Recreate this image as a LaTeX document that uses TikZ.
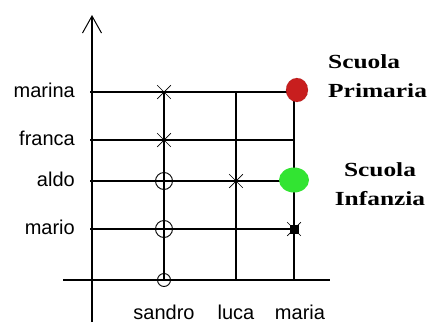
\documentclass[tikz,border=0pt]{standalone}
\usepackage{fontspec}
\setmainfont{Liberation Serif}
\setsansfont{Liberation Sans}
\newfontfamily\schoolfont{Liberation Serif}[FakeStretch=1.27]
\usepackage{xcolor}
\usetikzlibrary{arrows.meta, positioning}
\usetikzlibrary{shapes.geometric, shapes.misc}

\definecolor{primaria}{RGB}{200,30,30}
\definecolor{infanzia}{RGB}{50,228,50}

\begin{document}
\begin{tikzpicture}[x=1pt, y=-1pt,
                    gridline/.style={
                        line width=1.2pt
                    },
                    lbl/.style={
                        font=\sffamily\fontsize{20}{22}\selectfont,
                        inner sep=0pt,
                        text height=14pt,
                        text depth=4pt
                    },
                    school/.style={
                        font=\schoolfont\bfseries\fontsize{20}{29}\selectfont,
                        inner sep=0pt
                    },
                    xmark/.style={
                        draw,
                        cross out,
                        minimum size=13pt,
                        inner sep=0pt,
                        line width=0.7pt
                    },
                    omark/.style={
                        draw,
                        circle,
                        inner sep=0pt,
                        line width=0.9pt
                    },
                    dot/.style={
                        ellipse,
                        inner sep=0pt
                    }
                ]
                \useasboundingbox (0,0) rectangle (434,322);

                % Assi
                \coordinate (axistop) at (92,15);
                \coordinate (axisbot) at (92,322);
                \coordinate (baseleft) at (63,280);
                \coordinate (baseright) at (330,280);
                \draw[gridline, -{Straight Barb[length=17pt, width=19pt, line width=1pt]}] (axisbot) -- (axistop);
                \draw[gridline] (baseleft) -- (baseright);

                % Righe
                \foreach \name/\y in {marina/92, franca/140, aldo/181, mario/229} {
                    \coordinate (\name) at (90,\y);
                    \node[lbl, left=15pt of \name] (\name-lbl) {\name};
                }

                % Colonne
                \coordinate (sandro) at (164,280);
                \coordinate (luca) at (236,280);
                \coordinate (maria) at (294,280);
                \node[lbl, below=25pt of sandro] (sandro-lbl) {sandro};
                \node[lbl, below=25pt of luca] (luca-lbl) {luca};
                \node[lbl, below=25pt of maria, xshift=6pt] (maria-lbl) {maria};

                % Linee orizzontali
                \draw[gridline] (marina) -- (marina -| maria);
                \draw[gridline] (franca) -- (franca -| maria);
                \draw[gridline] (aldo) -- (aldo -| maria);
                \draw[gridline] (mario) -- (mario -| maria);

                % Linee verticali
                \draw[gridline] (sandro) -- (sandro |- marina);
                \draw[gridline] (luca) -- (luca |- marina);
                \draw[gridline] (maria) -- (maria |- marina);

                % Segni
                \node[xmark] (m1) at (sandro |- marina) {};
                \node[xmark] (m2) at (sandro |- franca) {};
                \node[xmark] (m3) at (luca |- aldo) {};
                \node[omark, minimum size=17pt] (m4) at (sandro |- aldo) {};
                \node[omark, minimum size=17pt] (m5) at (sandro |- mario) {};
                \node[omark, minimum size=13pt] (m6) at (sandro) {};
                \node[xmark, minimum size=13pt] (m7) at (maria |- mario) {};
                \node[fill=black, minimum size=9pt, inner sep=0pt] (m8) at (maria |- mario) {};

                % Scuole
                \node[dot, fill=primaria, draw=primaria!70!black, densely dotted, minimum width=22pt, minimum height=24pt,
                      xshift=3pt, yshift=2pt] (red) at (maria |- marina) {};
                \node[dot, fill=infanzia, minimum width=30pt, minimum height=25pt,
                      yshift=1pt] (green) at (maria |- aldo) {};
                \node[school, align=left, anchor=north west] (primaria-lbl) at (328,54) {Scuola\\Primaria};
                \node[school, align=center, anchor=north] (infanzia-lbl) at (380,162) {Scuola\\Infanzia};

            \end{tikzpicture}
\end{document}
